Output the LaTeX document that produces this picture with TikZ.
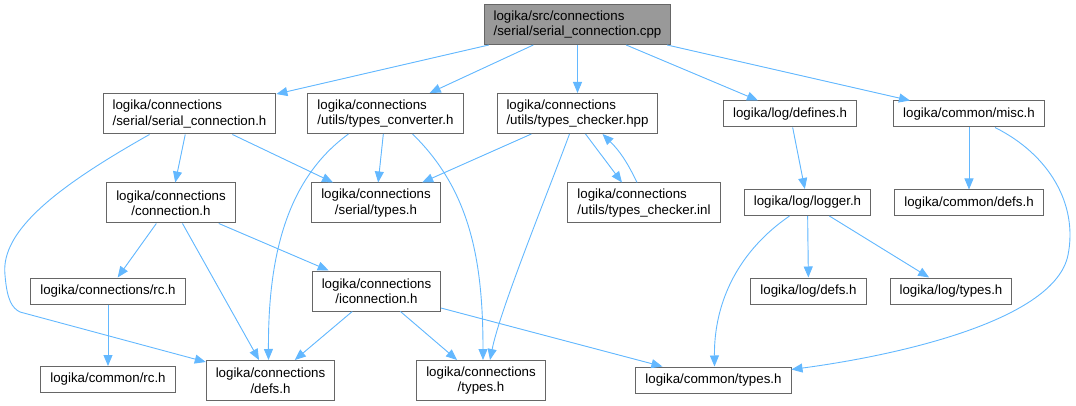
\documentclass[tikz,border=0pt]{standalone}
\usepackage{fontspec}
\setmainfont{Liberation Sans}
\usetikzlibrary{arrows.meta}
\definecolor{edgeblue}{HTML}{63B8FF}
\definecolor{boxgray}{HTML}{666666}
\definecolor{rootgray}{HTML}{999999}
\begin{document}
\begin{tikzpicture}[
  x=1pt,y=-1pt,
  font=\fontsize{13.3}{15.5}\selectfont,
  file/.style={draw=boxgray,line width=1pt,fill=white,inner xsep=9.5pt,inner ysep=2pt,minimum height=26pt},
  tall/.style={file,minimum height=40pt},
  rootfile/.style={tall,fill=rootgray,align=left},
  dep/.style={-{Triangle[length=11pt,width=9pt]},draw=edgeblue,fill=edgeblue,line width=0.9pt}
]
\useasboundingbox (0,0) rectangle (1076,406);
\node[rootfile] (root) at (577.5,24.5) {logika/src/connections\\/serial/serial\_connection.cpp};
\node[tall,align=left] (sch) at (189.5,114) {logika/connections\\/serial/serial\_connection.h};
\node[tall,align=left] (tconv) at (385.5,113.5) {logika/connections\\/utils/types\_converter.h};
\node[tall,align=left] (tchk) at (577.5,113.5) {logika/connections\\/utils/types\_checker.hpp};
\node[file] (ldefines) at (790,114) {logika/log/defines.h};
\node[file] (misc) at (969,114) {logika/common/misc.h};
\node[tall,align=center] (conn) at (171,203) {logika/connections\\/connection.h};
\node[tall,align=center] (stypes) at (376,203) {logika/connections\\/serial/types.h};
\node[tall,align=left] (tinl) at (644,203) {logika/connections\\/utils/types\_checker.inl};
\node[file] (logger) at (807.5,202.5) {logika/log/logger.h};
\node[file] (cdefs) at (969,203) {logika/common/defs.h};
\node[file] (rc) at (108,291) {logika/connections/rc.h};
\node[tall,align=center] (icon) at (376.5,291) {logika/connections\\/iconnection.h};
\node[file] (lgdefs) at (808.5,291) {logika/log/defs.h};
\node[file] (lgtypes) at (951,291) {logika/log/types.h};
\node[file] (crc) at (108,379.5) {logika/common/rc.h};
\node[tall,align=center] (cndefs) at (270.5,380.5) {logika/connections\\/defs.h};
\node[tall,align=center] (cntypes) at (481,380.5) {logika/connections\\/types.h};
\node[file] (ctypes) at (713.5,380) {logika/common/types.h};
\draw[dep] (root) -- (sch);
\draw[dep] (root) -- (tconv);
\draw[dep] (root) -- (tchk);
\draw[dep] (root) -- (ldefines);
\draw[dep] (root) -- (misc);
\draw[dep] (sch) -- (conn);
\draw[dep] (sch) -- (stypes);
\draw[dep,fill=none] ([xshift=-40pt]sch.south) .. controls (60,185) and (0,230) .. (5,275) .. controls (7,300) and (12,308) .. (20,312) -- ([yshift=-2pt]cndefs.north west);
\draw[dep] (tconv) -- (stypes);
\draw[dep,fill=none] ([xshift=-37pt]tconv.south) .. controls (285,180) and (268,260) .. ([xshift=-2pt]cndefs.north);
\draw[dep,fill=none] ([xshift=27pt]tconv.south) .. controls (470,190) and (483,260) .. ([xshift=2pt]cntypes.north);
\draw[dep] (tchk) -- (stypes);
\draw[dep,fill=none] ([xshift=-8pt]tchk.south) .. controls (545,200) and (500,310) .. ([xshift=9pt]cntypes.north);
\draw[dep] ([xshift=8pt]tchk.south) -- ([xshift=-22pt]tinl.north);
\draw[dep,fill=none] ([xshift=-7pt]tinl.north) to[bend right=10] ([xshift=25pt]tchk.south);
\draw[dep] (ldefines) -- (logger);
\draw[dep] (misc) -- (cdefs);
\draw[dep,fill=none] ([xshift=26pt]misc.south) .. controls (1050,155) and (1078,205) .. (1068,255) .. controls (1055,320) and (900,355) .. ([yshift=-3pt]ctypes.north east);
\draw[dep] (conn) -- (rc);
\draw[dep] (conn) -- (cndefs);
\draw[dep] (conn) -- (icon);
\draw[dep] (rc) -- (crc);
\draw[dep] (icon) -- (cndefs);
\draw[dep] (icon) -- (cntypes);
\draw[dep] (icon) -- (ctypes);
\draw[dep] (logger) -- (lgdefs);
\draw[dep] (logger) -- (lgtypes);
\draw[dep,fill=none] ([xshift=-18pt]logger.south) .. controls (740,250) and (714,300) .. ([xshift=1pt]ctypes.north);
\end{tikzpicture}
\end{document}
